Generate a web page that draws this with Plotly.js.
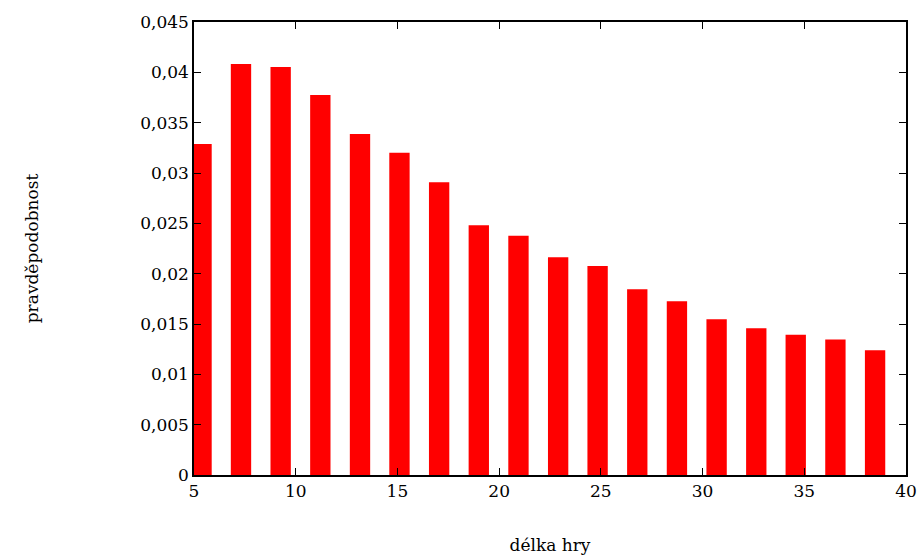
<!DOCTYPE html>
<html>
<head>
<meta charset="utf-8">
<script src="https://cdn.plot.ly/plotly-3.0.1.min.js"></script>
<style>html,body{margin:0;padding:0;background:#fff}#chart{width:919px;height:557px}</style>
</head>
<body>
<div id="chart"></div>
<script>
// bar positions (game length) and probabilities
const gameLength = [5.37, 7.31, 9.26, 11.21, 13.16, 15.1, 17.05, 19.0, 20.95, 22.9, 24.84, 26.79, 28.74, 30.69, 32.64, 34.58, 36.53, 38.48];
const probability = [0.03287, 0.04083, 0.04053, 0.03774, 0.03387, 0.03200, 0.02908, 0.02482, 0.02376, 0.02164, 0.02075, 0.01846, 0.01727, 0.01548, 0.01458, 0.01392, 0.01346, 0.01240];
const xTicks = [5, 10, 15, 20, 25, 30, 35, 40];
const yTicks = [0, 0.005, 0.01, 0.015, 0.02, 0.025, 0.03, 0.035, 0.04, 0.045];

const font = {family: 'DejaVu Serif', size: 17, color: '#000000'};

Plotly.newPlot('chart', [{
  type: 'bar',
  x: gameLength,
  y: probability,
  width: 1.0,
  marker: {color: '#ff0000', line: {width: 0}},
  hoverinfo: 'x+y'
}], {
  width: 919, height: 557,
  margin: {l: 194, r: 13, t: 22, b: 82},
  separators: ', ',
  paper_bgcolor: '#ffffff', plot_bgcolor: '#ffffff',
  font: font,
  showlegend: false,
  xaxis: {
    range: [5, 40], tickmode: 'array', tickvals: xTicks, ticks: 'inside', ticklen: 7, tickwidth: 1, tickcolor: '#000000',
    showline: true, linecolor: '#000000', linewidth: 1.5, mirror: 'ticks',
    showgrid: false, zeroline: false,
    title: {text: 'délka hry', font: font, standoff: 39}
  },
  yaxis: {
    range: [0, 0.045], tickmode: 'array', tickvals: yTicks, tickformat: '.3~f', ticksuffix: '\u00a0\u00a0', ticks: 'inside', ticklen: 7, tickwidth: 1, tickcolor: '#000000',
    showline: true, linecolor: '#000000', linewidth: 1.5, mirror: 'ticks',
    showgrid: false, zeroline: false,
    title: {text: 'pravděpodobnost', font: font, standoff: 97}
  }
}, {displayModeBar: false});
</script>
</body>
</html>
